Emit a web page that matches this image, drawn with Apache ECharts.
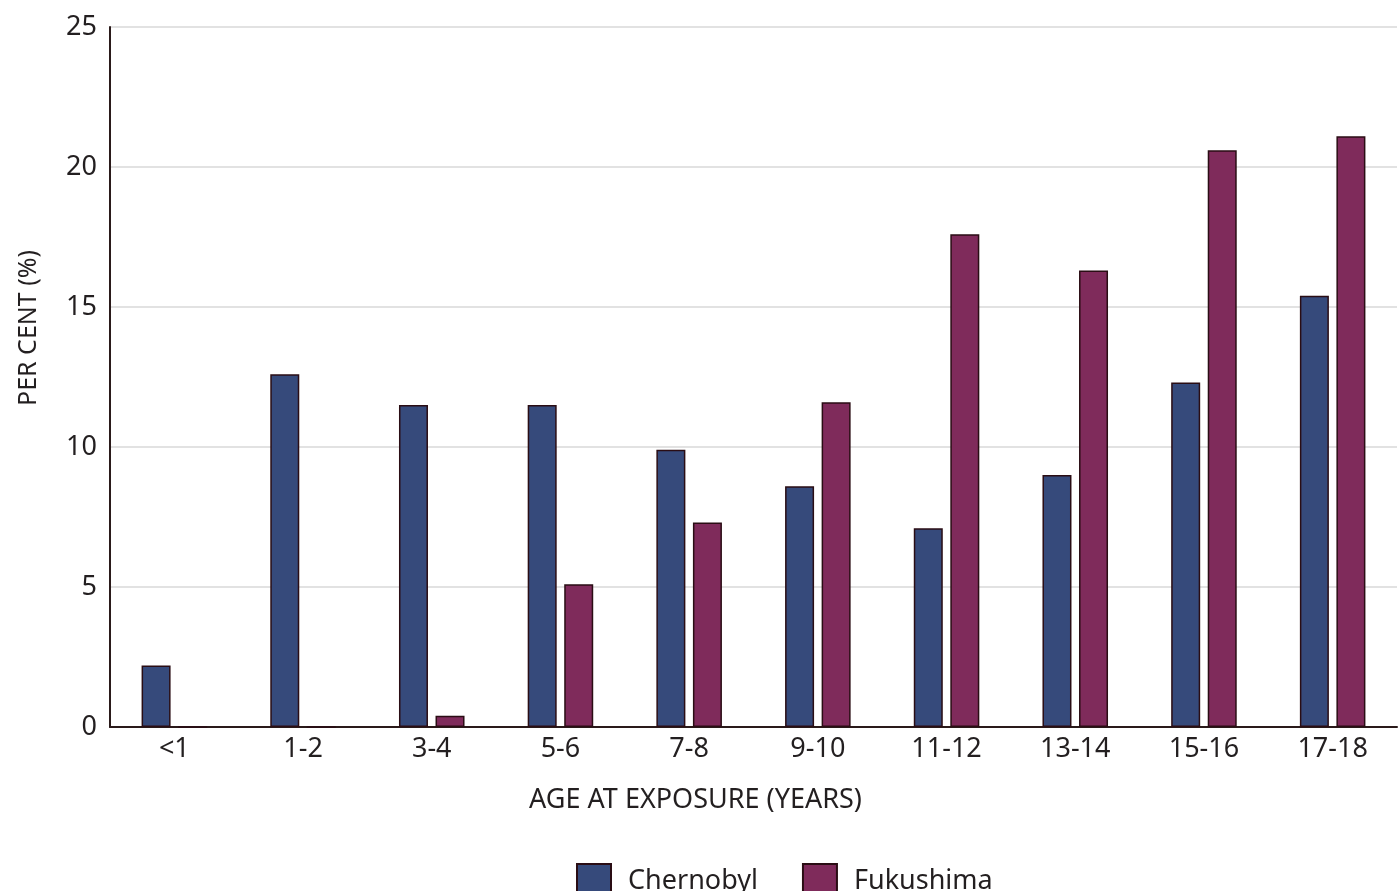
<!DOCTYPE html>
<html>
<head>
<meta charset="utf-8">
<script src="https://cdn.jsdelivr.net/npm/echarts@6/dist/echarts.min.js"></script>
<style>
  html, body { margin: 0; padding: 0; background: #fff; }
  #chart { width: 1399px; height: 891px; }
</style>
</head>
<body>
<div id="chart"></div>
<script>
// age groups and per cent of cases
const categories = ["<1", "1-2", "3-4", "5-6", "7-8", "9-10", "11-12", "13-14", "15-16", "17-18"];
const chernobyl = [2.2, 12.6, 11.5, 11.5, 9.9, 8.6, 7.1, 9.0, 12.3, 15.4];
const fukushima = [0, 0, 0.4, 5.1, 7.3, 11.6, 17.6, 16.3, 20.6, 21.1];
const yTicks = [0, 5, 10, 15, 20, 25];

const FONT = "Noto Sans";
const INK = "#231f20";

const chart = echarts.init(document.getElementById("chart"));

const bar = (name, data, color) => ({
  name,
  type: "bar",
  data,
  barWidth: 29,
  barGap: "26%",
  itemStyle: { color, borderColor: "#2a0d14", borderWidth: 1.5 },
});

chart.setOption({
  backgroundColor: "#fff",
  animation: false,
  textStyle: { fontFamily: FONT, color: INK },
  grid: { left: 110, right: 2, top: 27, bottom: 164 },
  legend: {
    left: 571,
    top: 858,
    itemWidth: 34,
    itemHeight: 34,
    itemGap: 44,
    icon: "rect",
    textStyle: { fontSize: 27, color: INK, fontFamily: FONT, padding: [0, 0, 0, 12] },
    data: ["Chernobyl", "Fukushima"],
  },
  xAxis: {
    type: "category",
    data: categories,
    axisLine: { lineStyle: { color: "#2a1a1a", width: 2 } },
    axisTick: { show: false },
    axisLabel: { fontSize: 27, color: INK, margin: 9 },
    name: "AGE AT EXPOSURE (YEARS)",
    nameLocation: "middle",
    nameGap: 60,
    nameTextStyle: { fontSize: 27, color: INK, padding: [0, 116, 0, 0] },
  },
  yAxis: {
    type: "value",
    min: yTicks[0],
    max: yTicks[yTicks.length - 1],
    interval: 5,
    axisLine: { show: true, lineStyle: { color: "#2a1a1a", width: 2 } },
    axisTick: { show: false },
    axisLabel: { fontSize: 27, color: INK, margin: 13 },
    splitLine: { lineStyle: { color: "#d8d8d8", width: 1.5 } },
    name: "PER CENT (%)",
    nameLocation: "middle",
    nameGap: 69,
    nameTextStyle: { fontSize: 25, color: INK, padding: [0, 0, 0, 98] },
  },
  series: [
    bar("Chernobyl", chernobyl, "#364a7b"),
    bar("Fukushima", fukushima, "#7f2b5b"),
  ],
});
</script>
</body>
</html>
